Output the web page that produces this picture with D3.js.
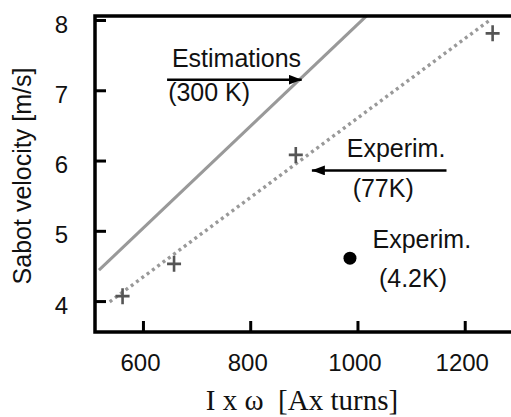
<!DOCTYPE html>
<html>
<head>
<meta charset="utf-8">
<script src="https://cdn.jsdelivr.net/npm/d3@7"></script>
<style>
body { margin: 0; background: #fff; }
svg { display: block; font-family: "Liberation Sans", Arial, sans-serif; }
</style>
</head>
<body>
<svg id="svg" width="511" height="417"></svg>
<script>
const xTicks = [600, 800, 1000, 1200]
const yTicks = [4, 5, 6, 7, 8]
// measured points at 77 K and the dotted fit through them
const exp77x = [562, 658, 885, 1252]
const exp77v = [4.07, 4.53, 6.08, 7.81]
const fit77x = [538, 1247]
const fit77v = [3.99, 8.0]
// estimation line, 300 K
const est300x = [518, 1017]
const est300v = [4.44, 8.06]
// single point at 4.2 K
const exp4x = [986]
const exp4v = [4.61]
// annotation texts, placed in data units
const labels = ["Estimations", "(300 K)", "Experim.", "(77K)", "Experim.", "(4.2K)"]
const labelX = [654, 647, 980, 991, 1028, 1040]
const labelV = [7.33, 6.85, 6.05, 5.48, 4.75, 4.20]
const arrowX = [[645, 896], [1166, 915]]
const arrowV = [[7.15, 7.15], [5.86, 5.86]]

const margin = {top: 16, left: 95, bottom: 85}
const w = 418, h = 316

const x = d3.scaleLinear([510.6, 1290], [0, w])
const y = d3.scaleLinear([3.56, 8.057], [h, 0])
const line = d3.line().x(d => x(d[0])).y(d => y(d[1]))

const svg = d3.select("#svg")
const g = svg.append("g").attr("transform", `translate(${margin.left},${margin.top})`)

const defs = svg.append("defs")
defs.append("clipPath").attr("id", "clip").append("rect").attr("width", w).attr("height", h)
defs.append("marker").attr("id", "head")
	.attr("markerUnits", "userSpaceOnUse").attr("markerWidth", 13).attr("markerHeight", 10)
	.attr("refX", 13).attr("refY", 5).attr("orient", "auto")
	.append("path").attr("d", "M0,0L13,5L0,10z").attr("fill", "#000")

// axes, ticks pointing inwards
const yAxis = g.append("g").call(d3.axisLeft(y).tickValues(yTicks).tickFormat(d3.format("d"))
	.tickSizeInner(-11).tickSizeOuter(0).tickPadding(27))
const xAxis = g.append("g").attr("transform", `translate(0,${h})`)
	.call(d3.axisBottom(x).tickValues(xTicks).tickFormat(d3.format("d"))
	.tickSizeInner(-11).tickSizeOuter(0).tickPadding(22))
for (const a of [xAxis, yAxis]) {
	a.select(".domain").remove()
	a.selectAll("line").attr("stroke", "#000").attr("stroke-width", 3)
	a.selectAll("text").attr("font-size", 24).attr("fill", "#111")
}
yAxis.selectAll("text").attr("dy", "0.5em")
xAxis.selectAll("text").attr("dx", -3)

const plot = g.append("g").attr("clip-path", "url(#clip)")
plot.append("path").attr("d", line(d3.zip(est300x, est300v)))
	.attr("fill", "none").attr("stroke", "#999").attr("stroke-width", 3)
plot.append("path").attr("d", line(d3.zip(fit77x, fit77v)))
	.attr("fill", "none").attr("stroke", "#999").attr("stroke-width", 3.4).attr("stroke-dasharray", "3,3.6")

g.selectAll(".cross").data(d3.zip(exp77x, exp77v)).join("path").attr("class", "cross")
	.attr("transform", d => `translate(${x(d[0])},${y(d[1])})`)
	.attr("d", "M-7,0H7M0,-8V8").attr("stroke", "#555").attr("stroke-width", 2.6)

g.selectAll(".dot").data(d3.zip(exp4x, exp4v)).join("circle").attr("class", "dot")
	.attr("cx", d => x(d[0])).attr("cy", d => y(d[1])).attr("r", 6.5).attr("fill", "#000")

// frame
g.append("rect").attr("width", w + 10).attr("height", h)
	.attr("fill", "none").attr("stroke", "#000").attr("stroke-width", 3.5)

g.selectAll(".arrow").data(arrowX.map((a, i) => d3.zip(a, arrowV[i]))).join("path").attr("class", "arrow")
	.attr("d", d => line(d)).attr("stroke", "#000").attr("stroke-width", 2.5).attr("marker-end", "url(#head)")

g.selectAll(".lab").data(labels).join("text").attr("class", "lab")
	.attr("x", (_, i) => x(labelX[i])).attr("y", (_, i) => y(labelV[i]))
	.attr("font-size", 25).attr("fill", "#111").text(d => d)

svg.append("text").attr("transform", "translate(31,176) rotate(-90)").attr("text-anchor", "middle")
	.attr("font-size", 25).attr("fill", "#111").text("Sabot velocity [m/s]")
svg.append("text").attr("x", 302).attr("y", 410).attr("text-anchor", "middle")
	.style("white-space", "pre").attr("font-family", "'Liberation Serif', 'Times New Roman', serif")
	.attr("font-size", 29).attr("fill", "#111").text("I x \u03c9  [Ax turns]")
</script>
</body>
</html>
